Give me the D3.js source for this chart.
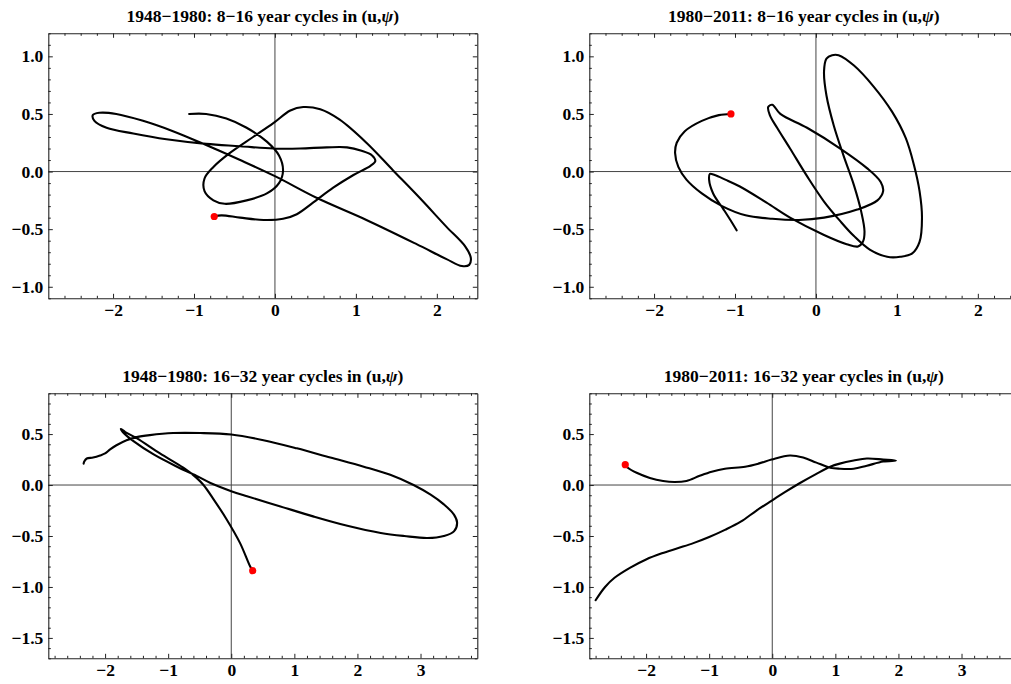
<!DOCTYPE html>
<html>
<head>
<meta charset="utf-8">
<script src="https://cdn.jsdelivr.net/npm/d3@7"></script>
<style>
  body { margin: 0; background: #fff; overflow: hidden; }
  text { font-family: "Liberation Serif", "Times New Roman", serif; font-weight: bold; }
</style>
</head>
<body>
<script>
// ---- data (first point = red marker) ----
const u1 = [-0.75,-0.66,-0.43,-0.14,0.10,0.27,0.47,0.72,0.97,1.18,1.24,1.20,1.07,0.89,0.64,0.31,-0.02,-0.43,-0.85,-1.34,-1.75,-2.08,-2.23,-2.25,-2.17,-1.96,-1.63,-1.26,-0.85,-0.43,0.00,0.52,1.13,1.75,2.12,2.31,2.40,2.42,2.35,2.12,1.79,1.46,1.13,0.80,0.56,0.35,0.19,-0.02,-0.27,-0.56,-0.76,-0.87,-0.87,-0.76,-0.62,-0.35,-0.10,0.05,0.10,0.05,-0.10,-0.35,-0.60,-0.85,-1.06];
const psi1 = [-0.39,-0.38,-0.40,-0.42,-0.41,-0.37,-0.27,-0.14,-0.03,0.05,0.09,0.14,0.18,0.21,0.21,0.20,0.20,0.22,0.24,0.28,0.33,0.38,0.44,0.49,0.51,0.50,0.44,0.35,0.23,0.10,-0.04,-0.23,-0.42,-0.63,-0.76,-0.82,-0.81,-0.75,-0.65,-0.48,-0.23,0.01,0.25,0.45,0.54,0.56,0.53,0.42,0.30,0.16,0.04,-0.06,-0.17,-0.25,-0.28,-0.25,-0.19,-0.10,0.01,0.14,0.26,0.38,0.46,0.50,0.50];

const u2 = [-1.05,-1.20,-1.41,-1.62,-1.72,-1.74,-1.70,-1.60,-1.41,-1.16,-0.87,-0.54,-0.21,0.10,0.51,0.76,0.83,0.80,0.63,0.30,-0.11,-0.44,-0.54,-0.59,-0.57,-0.48,-0.32,-0.11,0.10,0.30,0.47,0.67,0.88,1.04,1.19,1.28,1.31,1.28,1.21,1.11,0.94,0.71,0.47,0.28,0.20,0.13,0.10,0.13,0.22,0.34,0.47,0.56,0.60,0.58,0.52,0.38,0.10,-0.32,-0.61,-0.94,-1.12,-1.25,-1.31,-1.32,-1.27,-1.14,-1.04,-0.98];
const psi2 = [0.50,0.49,0.44,0.35,0.25,0.16,0.04,-0.07,-0.19,-0.30,-0.38,-0.41,-0.42,-0.40,-0.33,-0.25,-0.17,-0.09,0.03,0.20,0.38,0.50,0.58,0.56,0.49,0.38,0.20,-0.04,-0.26,-0.43,-0.56,-0.68,-0.74,-0.74,-0.71,-0.61,-0.40,-0.17,0.06,0.29,0.52,0.74,0.92,1.01,1.01,0.98,0.87,0.66,0.40,0.14,-0.12,-0.35,-0.52,-0.61,-0.65,-0.63,-0.55,-0.40,-0.27,-0.13,-0.07,-0.03,-0.02,-0.07,-0.19,-0.33,-0.44,-0.51];

const u3 = [0.34,0.30,0.14,-0.07,-0.28,-0.44,-0.55,-0.76,-1.13,-1.50,-1.68,-1.75,-1.72,-1.55,-1.23,-0.86,-0.55,-0.33,0.00,0.25,0.78,1.31,1.84,2.37,2.74,3.11,3.37,3.53,3.58,3.53,3.37,3.16,2.89,2.52,2.10,1.57,1.04,0.51,0.00,-0.49,-0.92,-1.29,-1.50,-1.66,-1.82,-1.92,-2.00,-2.08,-2.19,-2.29,-2.33,-2.34];
const psi3 = [-0.84,-0.80,-0.57,-0.34,-0.14,0.00,0.07,0.17,0.31,0.46,0.52,0.55,0.52,0.43,0.30,0.18,0.09,0.02,-0.06,-0.11,-0.21,-0.31,-0.40,-0.47,-0.50,-0.52,-0.50,-0.455,-0.37,-0.29,-0.19,-0.095,0.00,0.10,0.18,0.27,0.36,0.44,0.495,0.51,0.51,0.49,0.47,0.44,0.39,0.35,0.31,0.29,0.27,0.26,0.23,0.21];

const u4 = [-2.33,-2.29,-2.15,-1.94,-1.73,-1.55,-1.36,-1.15,-0.96,-0.75,-0.43,-0.22,-0.01,0.28,0.49,0.70,0.92,1.07,1.29,1.50,1.76,1.96,1.76,1.50,1.29,1.07,0.92,0.70,0.44,0.20,0.00,-0.25,-0.50,-0.75,-1.00,-1.25,-1.50,-1.75,-2.00,-2.25,-2.50,-2.65,-2.80];
const psi4 = [0.20,0.17,0.12,0.07,0.04,0.03,0.04,0.09,0.13,0.16,0.18,0.21,0.25,0.29,0.27,0.22,0.17,0.16,0.16,0.19,0.23,0.24,0.25,0.26,0.24,0.21,0.18,0.11,0.02,-0.07,-0.15,-0.25,-0.36,-0.44,-0.51,-0.57,-0.62,-0.67,-0.73,-0.81,-0.91,-1.00,-1.13];

const titles = [
  ["1948\u22121980: 8\u221216 year cycles in (u,", ")"],
  ["1980\u22122011: 8\u221216 year cycles in (u,", ")"],
  ["1948\u22121980: 16\u221232 year cycles in (u,", ")"],
  ["1980\u22122011: 16\u221232 year cycles in (u,", ")"]
];
const xTicksTop = [-2, -1, 0, 1, 2];
const yTicksTop = [-1.0, -0.5, 0.0, 0.5, 1.0];
const xTicksBottom = [-2, -1, 0, 1, 2, 3];
const yTicksBottom = [-1.5, -1.0, -0.5, 0.0, 0.5];

// ---- layout ----
const W = 1011, H = 684;
const pw = 429, ph = 265;
const fontSize = 17.5;

const panels = [
  { u: u1, psi: psi1, title: titles[0], left: 48.3, top: 33.3, xd: [-2.8, 2.5], yd: [-1.1, 1.2], xt: xTicksTop, yt: yTicksTop },
  { u: u2, psi: psi2, title: titles[1], left: 589.3, top: 33.3, xd: [-2.8, 2.5], yd: [-1.1, 1.2], xt: xTicksTop, yt: yTicksTop },
  { u: u3, psi: psi3, title: titles[2], left: 48.3, top: 393.3, xd: [-2.9, 3.9], yd: [-1.7, 0.9], xt: xTicksBottom, yt: yTicksBottom },
  { u: u4, psi: psi4, title: titles[3], left: 589.3, top: 393.3, xd: [-2.9, 3.9], yd: [-1.7, 0.9], xt: xTicksBottom, yt: yTicksBottom }
];

const svg = d3.select('body').append('svg')
  .attr('width', W)
  .attr('height', H)
  .style('background-color', 'white');

const frameColor = '#222';

panels.forEach((p, i) => {
  const g = svg.append('g').attr('transform', `translate(${p.left},${p.top})`);

  const x = d3.scaleLinear().domain(p.xd).range([0, pw]);
  const y = d3.scaleLinear().domain(p.yd).range([ph, 0]);

  const xMinor = d3.range(Math.ceil(p.xd[0] / 0.2) * 0.2, p.xd[1] + 1e-9, 0.2)
    .filter(v => Math.abs(v - Math.round(v)) > 1e-6);
  const yMinor = d3.range(Math.ceil(p.yd[0] / 0.1) * 0.1, p.yd[1] + 1e-9, 0.1)
    .filter(v => Math.abs(v * 2 - Math.round(v * 2)) > 1e-6);

  // zero axes
  g.append('line')
    .attr('x1', x(0)).attr('x2', x(0)).attr('y1', 0).attr('y2', ph)
    .attr('stroke', '#444').attr('stroke-width', 1);
  g.append('line')
    .attr('x1', 0).attr('x2', pw).attr('y1', y(0)).attr('y2', y(0))
    .attr('stroke', '#444').attr('stroke-width', 1);

  // frame axes: major ticks (inside), minor ticks
  const styleAxis = sel => {
    sel.attr('font-family', null).attr('font-size', null);
    sel.selectAll('.domain').attr('stroke', frameColor).attr('stroke-width', 1.1);
    sel.selectAll('.tick line').attr('stroke', frameColor);
    sel.selectAll('text').attr('font-size', fontSize).attr('fill', '#000');
  };

  g.append('g').attr('transform', `translate(0,${ph})`)
    .call(d3.axisBottom(x).tickValues(p.xt).tickSizeInner(-4.5).tickSizeOuter(0).tickPadding(5).tickFormat(d3.format('d')))
    .call(styleAxis);
  g.append('g').attr('transform', `translate(0,${ph})`)
    .call(d3.axisBottom(x).tickValues(xMinor).tickSize(-2.5).tickFormat(''))
    .call(a => a.select('.domain').remove())
    .call(styleAxis);

  g.append('g')
    .call(d3.axisTop(x).tickValues(p.xt).tickSizeInner(-4.5).tickSizeOuter(0).tickFormat(''))
    .call(styleAxis);
  g.append('g')
    .call(d3.axisTop(x).tickValues(xMinor).tickSize(-2.5).tickFormat(''))
    .call(a => a.select('.domain').remove())
    .call(styleAxis);

  g.append('g')
    .call(d3.axisLeft(y).tickValues(p.yt).tickSizeInner(-4.5).tickSizeOuter(0).tickPadding(5).tickFormat(d3.format('.1f')))
    .call(styleAxis);
  g.append('g')
    .call(d3.axisLeft(y).tickValues(yMinor).tickSize(-2.5).tickFormat(''))
    .call(a => a.select('.domain').remove())
    .call(styleAxis);

  g.append('g').attr('transform', `translate(${pw},0)`)
    .call(d3.axisRight(y).tickValues(p.yt).tickSizeInner(-4.5).tickSizeOuter(0).tickFormat(''))
    .call(styleAxis);
  g.append('g').attr('transform', `translate(${pw},0)`)
    .call(d3.axisRight(y).tickValues(yMinor).tickSize(-2.5).tickFormat(''))
    .call(a => a.select('.domain').remove())
    .call(styleAxis);

  // trajectory
  const pts = d3.zip(p.u, p.psi);
  const line = d3.line()
    .x(d => x(d[0]))
    .y(d => y(d[1]))
    .curve(d3.curveCatmullRom.alpha(0.5));

  g.append('path')
    .datum(pts)
    .attr('fill', 'none')
    .attr('stroke', '#000')
    .attr('stroke-width', 2.1)
    .attr('stroke-linejoin', 'round')
    .attr('stroke-linecap', 'round')
    .attr('d', line);

  g.append('circle')
    .attr('cx', x(pts[0][0]))
    .attr('cy', y(pts[0][1]))
    .attr('r', 3.6)
    .attr('fill', '#ff0000');

  // title
  const t = g.append('text')
    .attr('x', pw / 2)
    .attr('y', -11)
    .attr('text-anchor', 'middle')
    .attr('font-size', fontSize)
    .attr('fill', '#000');
  t.append('tspan').text(p.title[0]);
  t.append('tspan').attr('font-style', 'italic').text('\u03C8');
  t.append('tspan').text(p.title[1]);
});
</script>
</body>
</html>
